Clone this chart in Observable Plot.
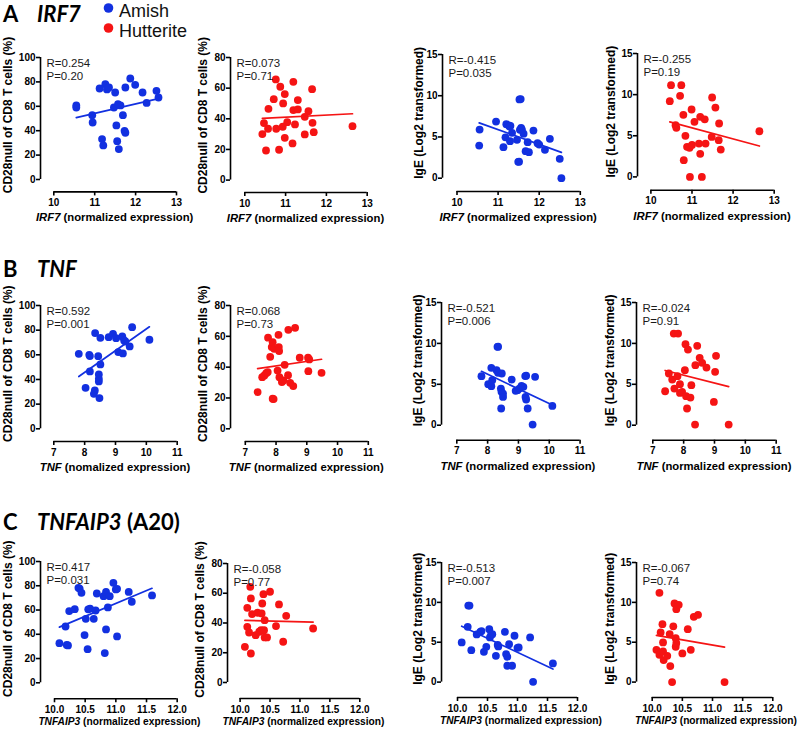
<!DOCTYPE html>
<html><head><meta charset="utf-8">
<script src="https://cdn.jsdelivr.net/npm/d3@7"></script>
<script src="https://cdn.jsdelivr.net/npm/@observablehq/plot@0.6"></script>
<style>
body{margin:0;background:#fff;}
#fig{position:relative;width:800px;height:730px;overflow:hidden;background:#fff;font-family:"Liberation Sans",Arial,sans-serif;}
#fig svg.plot-panel{position:absolute;}
#overlay{position:absolute;left:0;top:0;}
</style></head>
<body><div id="fig"></div>
<script>
// ---------- data ----------
const groups = ["Amish", "Hutterite"];
const groupColors = ["#1230e0", "#f51414"];
const genes = ["IRF7", "TNF", "TNFAIP3"];
const sectionLetters = ["A", "B", "C"];
const geneSuffix = ["", "", " (A20)"];
const cd28Label = "CD28null of CD8 T cells (%)";
const igeLabel = "IgE (Log2 transformed)";

const rValues = [0.254, 0.073, -0.415, -0.255, 0.592, 0.068, -0.521, -0.024, 0.417, -0.058, -0.513, -0.067];
const pValues = ["0.20", "0.71", "0.035", "0.19", "0.001", "0.73", "0.006", "0.91", "0.031", "0.77", "0.007", "0.74"];

const ticksCd28Amish = [0, 20, 40, 60, 80, 100];
const ticksCd28Hutterite = [0, 20, 40, 60, 80];
const ticksIgE = [0, 5, 10, 15];
const ticksIRF7 = [10, 11, 12, 13];
const ticksTNF = [7, 8, 9, 10, 11];
const ticksTNFAIP3 = [10.0, 10.5, 11.0, 11.5, 12.0];

// IRF7
const irf7AmishCd28X = [10.55,10.55,10.94,10.95,11.12,11.26,11.30,11.35,11.50,11.18,11.21,11.47,11.57,11.63,11.69,11.53,11.55,11.59,11.75,11.73,11.75,11.87,11.99,12.17,12.27,12.51,12.56];
const irf7AmishCd28Y = [60.7,59,52.7,46.7,74.6,78.1,73.8,75.4,71.3,33.1,27.9,59,61.7,60.7,52.7,44.3,31.4,24.9,75.4,39.9,38.3,82.8,77.6,71.3,62.8,72.7,67.2];
const irf7HutCd28X = [10.76,11.19,10.87,11.65,10.98,10.71,11.30,10.94,10.58,11.19,11.30,11.56,11.47,11.04,10.47,11.23,11.66,10.57,10.77,10.93,12.64,10.43,11.47,11.69,10.98,11.17,10.52,10.84];
const irf7HutCd28Y = [65.7,64.1,60.9,59.3,56.1,52.8,52.2,50,46.5,45.7,46.1,45,41.3,37.8,37.2,36.3,37.4,33.5,33.5,34.8,35.2,30,29.8,31.3,27.6,23.9,19.3,19.8];
const irf7AmishIgeX = [10.55,10.54,10.95,11.13,11.18,11.20,11.26,11.28,11.30,11.29,11.34,11.46,11.49,11.51,11.52,11.55,11.53,11.56,11.58,11.62,11.67,11.72,11.75,11.86,11.96,12.00,12.14,12.26,12.50,12.54];
const irf7AmishIgeY = [5.9,3.96,6.87,3.76,4.95,6.55,6.39,6.27,6.35,4.49,5.5,4.65,1.98,2.0,9.55,9.6,5.86,6.1,5.9,5.4,3.28,4.37,3.15,5.78,4.25,4.08,3.44,4.77,2.35,0];
const irf7HutIgeX = [10.49,10.74,10.46,10.71,10.79,10.99,10.60,10.62,11.06,11.20,11.31,11.49,11.57,11.66,10.84,10.88,10.94,11.00,11.17,11.33,11.48,11.65,11.70,11.20,10.80,10.95,11.24,12.64];
const irf7HutIgeY = [11.15,11.15,9.2,9.85,7.54,8.19,6.28,5.96,6.69,7.3,7.0,9.65,8.43,6.49,4.99,3.65,3.53,3.89,4.05,4.05,4.86,4.46,3.32,2.8,2.03,0,0,5.55];
// TNF
const tnfAmishCd28X = [7.81,8.15,8.17,8.03,8.17,8.34,8.33,8.30,8.44,8.46,8.46,8.46,8.48,8.51,8.51,8.78,8.92,9.02,9.09,9.22,9.24,9.28,9.32,9.46,9.54,10.10];
const tnfAmishCd28Y = [60.8,60,59,33.2,46.5,77.6,31.1,28.4,58.9,44.1,40.5,38.4,24.9,52.2,73.8,74.3,77,73.5,62.2,74.9,61.1,71.6,70.8,66.8,82.4,72.2];
const tnfHutCd28X = [7.40,7.55,7.62,7.68,7.73,7.74,7.81,7.86,7.89,7.89,7.92,7.94,8.05,8.08,8.09,8.10,8.11,8.19,8.24,8.28,8.39,8.40,8.46,8.56,8.62,8.77,9.04,9.08,9.05,9.48];
const tnfHutCd28Y = [23.8,33.5,34.6,36.1,36.8,59.1,46.7,53,56.2,19.5,19.3,51.9,37.8,61,53,50.4,33.5,30.3,31.4,41.5,34.8,64.2,29.8,27.7,65.5,46.1,46.1,45,37.4,36.3];
const tnfAmishIgeX = [7.80,8.02,8.12,8.12,8.15,8.29,8.32,8.34,8.34,8.46,8.43,8.45,8.50,8.50,8.44,8.78,8.91,8.97,9.03,9.10,9.16,9.22,9.25,9.23,9.25,9.30,9.54,9.46,10.10];
const tnfAmishIgeY = [5.99,5.01,4.77,7.01,5.5,6.72,9.58,9.6,6.4,6.32,4.48,4.08,3.87,3.46,2.04,5.58,4.2,4.28,4.48,4.81,4.69,6.0,6.05,3.46,3.14,2.04,5.91,0.08,2.36];
const tnfHutIgeX = [7.40,7.52,7.63,7.70,7.68,7.82,7.80,7.88,7.88,7.95,8.06,8.04,8.14,8.08,8.11,8.22,8.25,8.38,8.44,8.52,8.60,8.74,9.05,9.02,8.98,8.37,9.46];
const tnfHutIgeY = [4.15,6.32,5.58,4.48,11.2,11.2,5.99,5.01,3.95,4.08,9.9,6.72,9.25,3.55,2.04,3.38,4.89,7.34,9.7,8.23,7.62,7.05,8.48,6.52,2.85,0.08,0.08];
// TNFAIP3
const a20AmishCd28X = [10.08,10.18,10.20,10.22,10.24,10.33,10.39,10.41,10.44,10.49,10.51,10.55,10.58,10.54,10.64,10.67,10.69,10.80,10.84,10.84,10.82,10.87,10.90,10.96,11.00,11.02,11.02,11.21,11.26,11.59];
const a20AmishCd28Y = [32.7,46.4,31.2,30.8,59.1,60.7,78.3,77.7,74.2,39.3,52.7,60.6,61.2,27.7,52.7,59.6,73.6,71.4,74.9,44.0,24.5,62.1,71.4,82.4,77.0,77.5,38.2,74.9,66.8,72.0];
const a20HutCd28X = [10.08,10.12,10.12,10.15,10.17,10.18,10.18,10.20,10.26,10.29,10.32,10.36,10.37,10.35,10.39,10.40,10.41,10.41,10.45,10.50,10.60,10.65,10.72,10.77,11.22];
const a20HutCd28Y = [24.0,37.4,50.2,33.6,64.3,56.5,19.5,46.0,31.8,46.9,34.1,46.4,53.1,35.2,59.4,35.2,41.9,30.3,30.3,61.0,37.9,52.5,27.4,44.8,36.3];
const a20AmishIgeX = [10.07,10.17,10.18,10.20,10.23,10.32,10.38,10.40,10.44,10.48,10.53,10.54,10.56,10.58,10.64,10.67,10.68,10.79,10.81,10.83,10.83,10.91,10.86,10.95,11.00,11.02,11.21,11.26,11.59];
const a20AmishIgeY = [4.97,6.93,9.6,9.6,4.01,5.98,6.3,6.4,3.80,4.43,6.64,5.6,5.95,6.0,3.3,4.68,4.47,6.31,3.51,3.18,2.05,2.05,4.76,5.81,4.3,4.35,5.6,0.04,2.34];
const a20HutIgeX = [10.07,10.12,10.12,10.14,10.17,10.18,10.18,10.19,10.25,10.29,10.30,10.33,10.35,10.37,10.39,10.39,10.40,10.40,10.44,10.50,10.59,10.64,10.69,10.76,11.20];
const a20HutIgeY = [4.05,3.43,11.2,6.23,7.27,4.97,3.84,2.76,3.30,6.02,2.01,0,7.0,9.86,5.5,4.43,4.89,9.15,9.69,3.59,6.64,4.05,8.19,8.44,0];

// ---------- layout (pixel geometry of each panel: y-axis x, top, zero, x-axis y, x-min px, x-max px) ----------
const layout = [
  [40, 57.3, 179.3, 191.7, 53.3, 176], [230, 56.7, 179.3, 191.7, 244.3, 366.7], [441.5, 54, 177.7, 191, 456, 579.3], [637.3, 53.3, 176.7, 190, 650.7, 774],
  [40, 305, 428.3, 441, 53.3, 176.7], [229.5, 305, 428.3, 441, 244.3, 367.3], [440.7, 302.3, 425, 440, 456, 579.3], [636, 302.3, 425, 440, 652.3, 775.7],
  [40, 561, 682.3, 698.3, 54, 176.7], [226.7, 563.3, 682.3, 698.3, 239.3, 359], [440.7, 561.7, 681.3, 696.7, 456.7, 576.7], [636, 561.7, 681.3, 696.7, 651.7, 772.3]
];
const yLabelOffset = [32, 27.5, 23, 26];

const fig = d3.select("#fig");
const FONT = "'Liberation Sans', Arial, sans-serif";

const panels = [
  [irf7AmishCd28X, irf7AmishCd28Y], [irf7HutCd28X, irf7HutCd28Y], [irf7AmishIgeX, irf7AmishIgeY], [irf7HutIgeX, irf7HutIgeY],
  [tnfAmishCd28X, tnfAmishCd28Y], [tnfHutCd28X, tnfHutCd28Y], [tnfAmishIgeX, tnfAmishIgeY], [tnfHutIgeX, tnfHutIgeY],
  [a20AmishCd28X, a20AmishCd28Y], [a20HutCd28X, a20HutCd28Y], [a20AmishIgeX, a20AmishIgeY], [a20HutIgeX, a20HutIgeY]
];
const xTickSets = [ticksIRF7, ticksTNF, ticksTNFAIP3];

panels.forEach(([xs, ys], i) => {
  const row = Math.floor(i / 4), col = i % 4;
  const [ax, yt, y0, xa, x0, x1] = layout[i];
  const isIgE = col >= 2;
  const color = groupColors[col % 2];
  const yTicks = isIgE ? ticksIgE : (col === 0 ? ticksCd28Amish : ticksCd28Hutterite);
  const yMax = yTicks[yTicks.length - 1];
  const xTicks = xTickSets[row];
  const xDom = [xTicks[0], xTicks[xTicks.length - 1]];
  const fmt = row === 2 ? d3.format(".1f") : d3.format("d");
  const ML = 45, MT = 6, MR = 14, MB = 44;
  const gapL = x0 - ax, gapB = xa - y0;
  const W = ML + (x1 - ax) + MR, H = MT + (xa - yt) + MB;
  const data = xs.map((x, k) => ({x, y: ys[k]}));
  const rTxt = "R=" + rValues[i] + "\nP=" + pValues[i];
  const svg = Plot.plot({
    width: W, height: H, marginLeft: ML, marginTop: MT, marginRight: MR, marginBottom: MB,
    style: {background: "transparent", overflow: "visible", fontFamily: FONT, color: "#000"},
    x: {domain: xDom, insetLeft: gapL, insetRight: 0, label: null},
    y: {domain: [0, yMax], insetBottom: gapB, insetTop: 0, label: null},
    marks: [
      Plot.ruleX([xDom[0]], {y1: 0, y2: yMax, dx: -gapL, stroke: "#000", strokeWidth: 1.6}),
      Plot.ruleY([0], {x1: xDom[0], x2: xDom[1], dy: gapB, stroke: "#000", strokeWidth: 1.6}),
      Plot.axisY(yTicks, {label: null, tickSize: 4, tickPadding: 1, strokeWidth: 1.6, fontSize: 10, fontWeight: "bold", tickFormat: d3.format("d")}),
      Plot.axisX(xTicks, {label: null, tickSize: 4, tickPadding: 3, strokeWidth: 1.6, fontSize: 10, fontWeight: "bold", tickFormat: fmt}),
      Plot.dot(data, {x: "x", y: "y", r: 3.9, fill: color, stroke: null}),
      Plot.linearRegressionY(data, {x: "x", y: "y", stroke: color, strokeWidth: 1.7, ci: 0}),
      Plot.text([rTxt], {frameAnchor: "top-left", textAnchor: "start", lineAnchor: "top", dx: 6, dy: 0, fontSize: 11.5, lineHeight: 1.13, fill: "#1a1a1a"})
    ]
  });
  svg.classList.add("plot-panel");
  svg.style.left = (ax - ML) + "px";
  svg.style.top = (yt - MT) + "px";
  const s = d3.select(svg);
  // y axis label
  const ycx = ML - yLabelOffset[col] + 4.3;
  const ycy = MT + (y0 - yt) / 2 - 3;
  s.append("text")
    .attr("transform", `translate(${ycx},${ycy}) rotate(-90)`)
    .attr("text-anchor", "middle")
    .attr("font-family", FONT).attr("font-size", 12).attr("font-weight", "bold").attr("fill", "#000")
    .text(isIgE ? igeLabel : cd28Label);
  // x axis label
  const xcx = ML + gapL + (x1 - x0) / 2 + (row === 2 ? 4 : 0);
  const xcy = H - MB + (row === 2 ? 27 : 30);
  const rest = (row === 1 && col === 0) ? " (nomalized expression)" : " (normalized expression)";
  const t = s.append("text").attr("x", xcx).attr("y", xcy).attr("text-anchor", "middle")
    .attr("font-family", FONT).attr("font-size", row === 2 ? 10.2 : 11.3).attr("font-weight", "bold").attr("fill", "#000");
  t.append("tspan").attr("font-style", "italic").text(genes[row]);
  t.append("tspan").text(rest);
  fig.node().appendChild(svg);
});

// ---------- headers and legend ----------
const ov = fig.append("svg").attr("id", "overlay").attr("width", 800).attr("height", 730);
const headerBaselines = [22, 277, 530];
sectionLetters.forEach((L, r) => {
  ov.append("text").attr("x", 3).attr("y", headerBaselines[r])
    .attr("font-family", "Lato, 'Open Sans', sans-serif").attr("font-weight", "bold").attr("font-size", 22).text(L);
  const t = ov.append("text").attr("x", 37).attr("y", headerBaselines[r])
    .attr("font-family", "Lato, 'Open Sans', sans-serif").attr("font-weight", "bold").attr("font-size", 22);
  t.append("tspan").attr("font-style", "italic").text(genes[r]);
  if (geneSuffix[r]) t.append("tspan").text(geneSuffix[r]);
});
const legY = [8, 28];
groups.forEach((g, k) => {
  ov.append("circle").attr("cx", 108.5).attr("cy", legY[k]).attr("r", 4.8).attr("fill", groupColors[k]);
  ov.append("text").attr("x", 119).attr("y", legY[k] + 8.5).attr("font-family", FONT).attr("font-size", 18).attr("fill", "#111").text(g);
});
</script>
</body></html>
